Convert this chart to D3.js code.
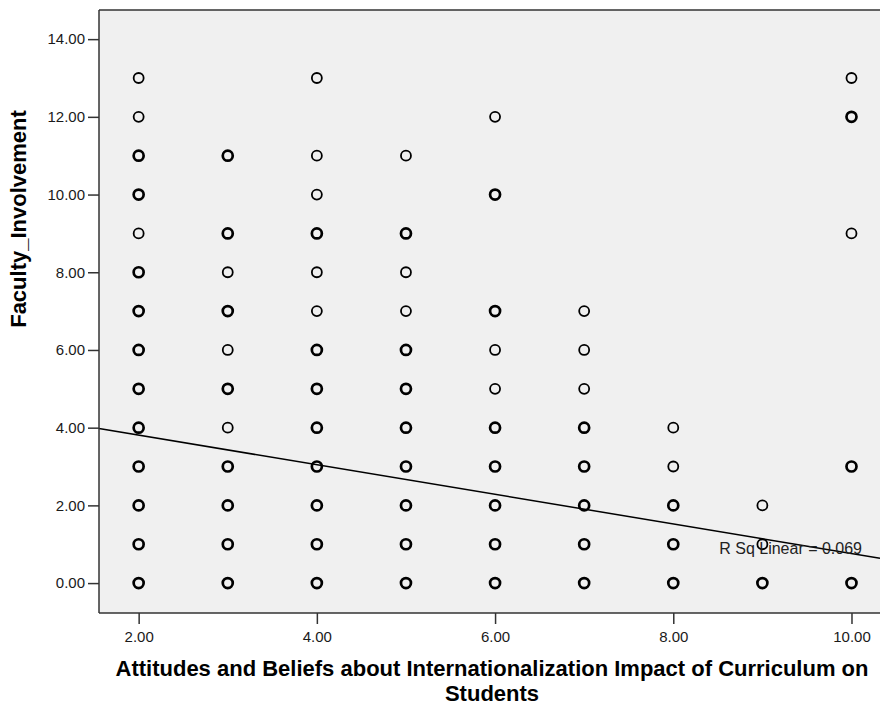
<!DOCTYPE html>
<html lang="en">
<head>
  <meta charset="UTF-8">
  <title>Scatter - D3</title>
  <script src="https://d3js.org/d3.v7.min.js"></script>
  <style>
    body {
      margin: 0;
      background-color: #fff;
      font-family: Arial, "Liberation Sans", sans-serif;
    }
    .axis text {
      font-size: 15px;
      font-family: Arial, "Liberation Sans", sans-serif;
      fill: #1a1a1a;
    }
    .axis path,
    .axis line {
      stroke: #333;
      stroke-width: 1.5px;
    }
    .title {
      font-size: 22px;
      font-weight: bold;
      fill: #000;
      text-anchor: middle;
    }
    .fitlabel {
      font-size: 16px;
      fill: #222;
    }
  </style>
</head>
<body>
  <script>
    // Attitudes score (x categories)
    var attitudes = [2, 3, 4, 5, 6, 7, 8, 9, 10];
    // Faculty_Involvement values seen once per column
    var singleCases = [
      [13, 12, 9],
      [8, 6, 4],
      [13, 11, 10, 8, 7],
      [11, 8, 7],
      [12, 6, 5],
      [7, 6, 5],
      [4, 3],
      [2, 1],
      [13, 9]
    ];
    // values with overlapping cases (drawn heavier)
    var repeatedCases = [
      [11, 10, 8, 7, 6, 5, 4, 3, 2, 1, 0],
      [11, 9, 7, 5, 3, 2, 1, 0],
      [9, 6, 5, 4, 3, 2, 1, 0],
      [9, 6, 5, 4, 3, 2, 1, 0],
      [10, 7, 4, 3, 2, 1, 0],
      [4, 3, 2, 1, 0],
      [2, 1, 0],
      [0],
      [12, 3, 0]
    ];
    var xTicks = [2, 4, 6, 8, 10];
    var yTicks = [0, 2, 4, 6, 8, 10, 12, 14];
    // linear fit
    var fitIntercept = 4.57, fitSlope = -0.381, rSquare = 0.069;

    var margin = { top: 10, right: 0, bottom: 93, left: 99 },
        width = 880 - margin.left - margin.right,
        height = 706 - margin.top - margin.bottom;

    var x = d3.scaleLinear().domain([1.555, 10.32]).range([0, width]);
    var y = d3.scaleLinear().domain([-0.77, 14.75]).range([height, 0]);

    var root = d3.select("body")
                 .append("svg")
                 .attr("width", 880)
                 .attr("height", 706);
    var svg = root.append("g")
                  .attr("transform", `translate(${margin.left},${margin.top})`);

    // plot background
    svg.append("rect")
       .attr("width", width)
       .attr("height", height)
       .attr("fill", "#f0f0f0");

    svg.append("line")
       .attr("x1", 0).attr("x2", width)
       .attr("y1", 0).attr("y2", 0)
       .attr("stroke", "#333")
       .attr("stroke-width", 1.5);

    // points
    var points = [];
    attitudes.forEach(function(a, i) {
      singleCases[i].forEach(v => points.push({ x: a, y: v, many: false }));
      repeatedCases[i].forEach(v => points.push({ x: a, y: v, many: true }));
    });

    svg.selectAll(".pt")
       .data(points)
       .enter()
       .append("circle")
       .attr("class", "pt")
       .attr("cx", d => x(d.x))
       .attr("cy", d => y(d.y))
       .attr("r", 5)
       .attr("fill", "none")
       .attr("stroke", "#000")
       .attr("stroke-width", d => d.many ? 2.7 : 1.8);

    // fit line
    var xd = x.domain();
    svg.append("line")
       .attr("x1", x(xd[0]))
       .attr("y1", y(fitIntercept + fitSlope * xd[0]))
       .attr("x2", x(xd[1]))
       .attr("y2", y(fitIntercept + fitSlope * xd[1]))
       .attr("stroke", "#000")
       .attr("stroke-width", 1.5);

    svg.append("text")
       .attr("class", "fitlabel")
       .attr("x", width - 18)
       .attr("y", y(1) + 10)
       .attr("text-anchor", "end")
       .text("R Sq Linear = " + rSquare.toFixed(3));

    // Axe X
    svg.append("g")
       .attr("class", "axis")
       .attr("transform", "translate(0," + height + ")")
       .call(d3.axisBottom(x).tickValues(xTicks).tickFormat(d3.format(".2f")).tickSize(11).tickSizeOuter(0))
       .call(g => g.select(".domain").attr("d", `M0,0H${width}`))
       .selectAll("text")
       .attr("dy", "1.0em");

    // Axe Y
    svg.append("g")
       .attr("class", "axis")
       .call(d3.axisLeft(y).tickValues(yTicks).tickFormat(d3.format(".2f")).tickSize(11).tickSizeOuter(0))
       .call(g => g.select(".domain").attr("d", `M0,0V${height}`))
       .selectAll("text")
       .attr("x", -14);

    // titles
    root.append("text")
        .attr("class", "title")
        .attr("transform", "translate(26,219) rotate(-90)")
        .text("Faculty_Involvement");

    root.append("text")
        .attr("class", "title")
        .attr("x", 492)
        .attr("y", 676)
        .text("Attitudes and Beliefs about Internationalization Impact of Curriculum on");
    root.append("text")
        .attr("class", "title")
        .attr("x", 492)
        .attr("y", 701)
        .text("Students");
  </script>
</body>
</html>
